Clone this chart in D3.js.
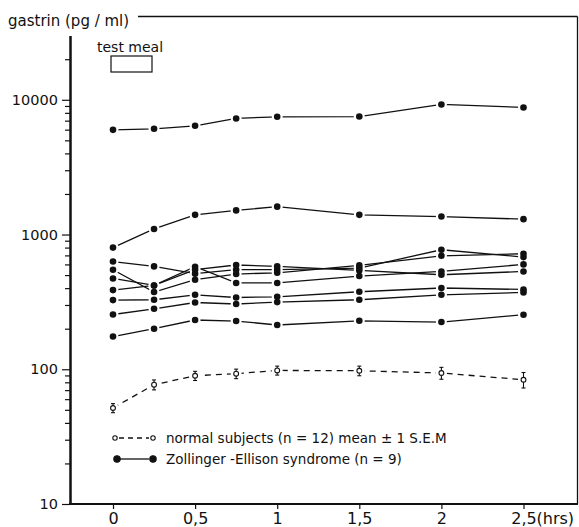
<!DOCTYPE html>
<html>
<head>
<meta charset="utf-8">
<script src="https://cdn.jsdelivr.net/npm/d3@7"></script>
<style>
  body { margin: 0; background: #fff; }
  text { font-family: "DejaVu Sans", sans-serif; fill: #111; }
</style>
</head>
<body>
<div id="chart"></div>
<script>

const WIDTH = 579;
const HEIGHT = 527;

// Sampling times (hrs) and x tick labels.
const hours = [0, 0.25, 0.5, 0.75, 1, 1.5, 2, 2.5];
const tickHours = [0, 0.5, 1, 1.5, 2, 2.5];
const tickLabels = ["0", "0,5", "1", "1,5", "2", "2,5"];
const decadeTicks = [10, 100, 1000, 10000];

// Zollinger-Ellison patients (n = 9), gastrin pg/ml.
const ze1 = [5980, 6090, 6410, 7270, 7480, 7510, 9230, 8770];
const ze2 = [800, 1100, 1400, 1510, 1610, 1400, 1360, 1300];
const ze3 = [630, 580, 512, 548, 548, 564, 771, 680];
const ze4 = [548, 374, 462, 509, 520, 590, 695, 720];
const ze5 = [472, 419, 577, 437, 437, 492, 532, 600];
const ze6 = [387, 419, 548, 594, 580, 541, 503, 532];
const ze7 = [326, 328, 357, 341, 345, 376, 401, 391];
const ze8 = [255, 281, 313, 305, 315, 328, 357, 372];
const ze9 = [175, 200, 232, 228, 213, 229, 224, 254];
const zeSeries = [ze1, ze2, ze3, ze4, ze5, ze6, ze7, ze8, ze9];

// Normal subjects (n = 12): mean and 1 S.E.M.
const normalMean = [51.6, 76.8, 89.5, 92.7, 98, 97.5, 93.8, 83.6];
const normalSem = [4, 6.5, 7, 7.5, 7.5, 8, 9.5, 11];

const legendLabels = [
    "normal subjects (n = 12) mean ± 1 S.E.M",
    "Zollinger -Ellison syndrome (n = 9)"
];


window.onload = function() {

    var svg = d3.select("#chart").append("svg")
                .attr("width", WIDTH)
                .attr("height", HEIGHT);

    var x = d3.scaleLinear().domain([0, 2.5]).range([113, 523.5]);
    var y = d3.scaleLog().domain([10, 30000]).range([504, 35.5]);

    // Frame: title rule on top and right edge.
    svg.append("line")
       .attr("x1", 138).attr("x2", 577.5)
       .attr("y1", 16.5).attr("y2", 16.5)
       .attr("stroke", "#111").attr("stroke-width", 1.5);
    svg.append("line")
       .attr("x1", 577.5).attr("x2", 577.5)
       .attr("y1", 16.5).attr("y2", 504)
       .attr("stroke", "#111").attr("stroke-width", 1.3);

    svg.append("text")
       .attr("x", 8).attr("y", 26)
       .attr("font-size", "15px")
       .text("gastrin (pg / ml)");

    // Y axis (log).
    var minor = [];
    for (var k = 1; k <= 4; k++) {
        for (var m = 2; m <= 9; m++) {
            if (m * Math.pow(10, k) <= 20000) minor.push(m * Math.pow(10, k));
        }
    }
    var yAxis = d3.axisLeft(y)
                  .tickValues(decadeTicks.concat(minor))
                  .tickSize(8)
                  .tickSizeOuter(0)
                  .tickPadding(4)
                  .tickFormat(function (d) { return decadeTicks.indexOf(d) >= 0 ? d : ""; });

    var gy = svg.append("g")
                .attr("transform", "translate(70,0)")
                .call(yAxis);
    gy.attr("font-family", null).attr("font-size", null);
    gy.select(".domain").attr("stroke", "#111").attr("stroke-width", 2.5);
    gy.selectAll(".tick line")
      .attr("stroke", "#111")
      .attr("stroke-width", 1.2)
      .attr("x2", function (d) { return decadeTicks.indexOf(d) >= 0 ? -8 : -5; });
    gy.selectAll(".tick text").attr("font-size", "14.5px").attr("fill", "#111");

    // X axis.
    svg.append("line")
       .attr("x1", 69).attr("x2", 578)
       .attr("y1", 504).attr("y2", 504)
       .attr("stroke", "#111").attr("stroke-width", 2);

    var xAxis = d3.axisBottom(x)
                  .tickValues(tickHours)
                  .tickSize(5)
                  .tickSizeOuter(0)
                  .tickPadding(4)
                  .tickFormat(function (d, i) { return tickLabels[i]; });
    var gx = svg.append("g")
                .attr("transform", "translate(0,504)")
                .call(xAxis);
    gx.attr("font-family", null).attr("font-size", null);
    gx.select(".domain").remove();
    gx.selectAll(".tick line").attr("stroke", "#111").attr("stroke-width", 1.2);
    gx.selectAll(".tick text").attr("font-size", "16px").attr("fill", "#111");

    svg.append("text")
       .attr("x", x(2.5) + 13).attr("y", 513)
       .attr("dy", "0.71em")
       .attr("font-size", "16px")
       .text("(hrs)");

    // Test meal marker.
    svg.append("text")
       .attr("x", 97).attr("y", 52)
       .attr("font-size", "14px")
       .text("test meal");
    svg.append("rect")
       .attr("x", 111).attr("y", 56)
       .attr("width", 41).attr("height", 16)
       .attr("fill", "none")
       .attr("stroke", "#111").attr("stroke-width", 1.2);

    var line = d3.line()
                 .x(function (d, i) { return x(hours[i]); })
                 .y(function (d) { return y(d); });

    // Lines.
    svg.selectAll("path.ze")
       .data(zeSeries)
       .enter()
       .append("path")
       .attr("class", "ze")
       .attr("d", line)
       .attr("fill", "none")
       .attr("stroke", "#111")
       .attr("stroke-width", 1.3);

    svg.append("path")
       .datum(normalMean)
       .attr("d", line)
       .attr("fill", "none")
       .attr("stroke", "#111")
       .attr("stroke-width", 1.3)
       .attr("stroke-dasharray", "6,5");

    // White halos leave the little gaps round the points.
    var allPts = [];
    zeSeries.forEach(function (s) {
        s.forEach(function (v, i) { allPts.push([hours[i], v]); });
    });
    normalMean.forEach(function (v, i) { allPts.push([hours[i], v]); });

    svg.selectAll("circle.halo")
       .data(allPts)
       .enter()
       .append("circle")
       .attr("class", "halo")
       .attr("cx", function (d) { return x(d[0]); })
       .attr("cy", function (d) { return y(d[1]); })
       .attr("r", 5.5)
       .attr("fill", "#fff");

    // Patient dots.
    svg.selectAll("circle.dot")
       .data(allPts.slice(0, zeSeries.length * hours.length))
       .enter()
       .append("circle")
       .attr("class", "dot")
       .attr("cx", function (d) { return x(d[0]); })
       .attr("cy", function (d) { return y(d[1]); })
       .attr("r", 3.3)
       .attr("fill", "#111");

    // Normal subjects: error bars and open circles.
    var norm = svg.selectAll("g.norm")
                  .data(normalMean)
                  .enter()
                  .append("g")
                  .attr("class", "norm")
                  .attr("transform", function (d, i) { return "translate(" + x(hours[i]) + ",0)"; });

    norm.append("line")
        .attr("y1", function (d, i) { return y(d - normalSem[i]); })
        .attr("y2", function (d, i) { return y(d + normalSem[i]); })
        .attr("stroke", "#111").attr("stroke-width", 1.1);
    norm.append("line")
        .attr("x1", -2).attr("x2", 2)
        .attr("y1", function (d, i) { return y(d - normalSem[i]); })
        .attr("y2", function (d, i) { return y(d - normalSem[i]); })
        .attr("stroke", "#111").attr("stroke-width", 1.1);
    norm.append("line")
        .attr("x1", -2).attr("x2", 2)
        .attr("y1", function (d, i) { return y(d + normalSem[i]); })
        .attr("y2", function (d, i) { return y(d + normalSem[i]); })
        .attr("stroke", "#111").attr("stroke-width", 1.1);
    norm.append("circle")
        .attr("cy", function (d) { return y(d); })
        .attr("r", 2.4)
        .attr("fill", "#fff")
        .attr("stroke", "#111").attr("stroke-width", 1.1);

    // Legend.
    var legend = svg.selectAll("g.legend")
                    .data(legendLabels)
                    .enter()
                    .append("g")
                    .attr("class", "legend")
                    .attr("transform", function (d, i) { return "translate(0," + (438 + i * 21) + ")"; });

    legend.append("line")
          .attr("x1", 119).attr("x2", 149)
          .attr("stroke", "#111").attr("stroke-width", 1.3)
          .attr("stroke-dasharray", function (d, i) { return i == 0 ? "5,4" : null; });

    legend.append("circle")
          .attr("cx", function (d, i) { return i == 0 ? 115 : 117; })
          .attr("r", function (d, i) { return i == 0 ? 2.2 : 3.2; })
          .attr("fill", function (d, i) { return i == 0 ? "#fff" : "#111"; })
          .attr("stroke", "#111").attr("stroke-width", 1.1);
    legend.append("circle")
          .attr("cx", 153)
          .attr("r", function (d, i) { return i == 0 ? 2.2 : 3.2; })
          .attr("fill", function (d, i) { return i == 0 ? "#fff" : "#111"; })
          .attr("stroke", "#111").attr("stroke-width", 1.1);

    legend.append("text")
          .attr("x", 166).attr("y", 5)
          .attr("font-size", "13.5px")
          .text(function (d) { return d; });
};

</script>
</body>
</html>
